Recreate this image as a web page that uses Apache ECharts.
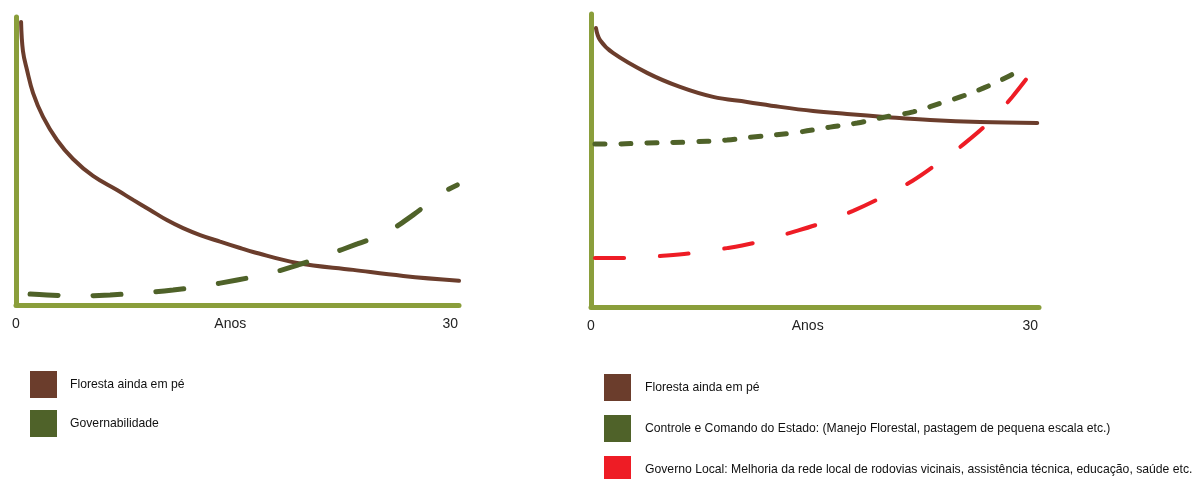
<!DOCTYPE html>
<html>
<head>
<meta charset="utf-8">
<script src="https://cdn.jsdelivr.net/npm/echarts@6/dist/echarts.min.js"></script>
<style>
html,body{margin:0;padding:0;background:#fff;overflow:hidden;}
#chart{width:1201px;height:500px;}
</style>
</head>
<body>
<div id="chart"></div>
<script>
// ---- Data (x = years, y = relative level 0-100) ----
const xTickValues = [0, 14.8, 30];
const xTickLabels = ['0', 'Anos', '30'];

const nameForest = 'Floresta ainda em pé';
const nameGov = 'Governabilidade';
const nameState = 'Controle e Comando do Estado: (Manejo Florestal, pastagem de pequena escala etc.)';
const nameLocal = 'Governo Local: Melhoria da rede local de rodovias vicinais, assistência técnica, educação, saúde etc.';

// Left panel
const leftForest = [[0.35,98.3],[0.48,88.2],[0.76,81.6],[1.18,73.6],[1.87,65.3],[2.83,57.3],[3.94,50.7],[5.32,44.8],[6.98,39.9],[8.09,36.5],[9.26,33.0],[10.42,29.5],[11.54,26.7],[12.72,24.3],[14.10,22.0],[15.48,19.8],[16.38,18.4],[19.42,14.6],[23.29,12.2],[26.75,10.1],[30.6,8.4]];
const leftGov = [[0.97,3.8],[2.14,3.5],[4.22,3.1],[6.50,3.5],[8.57,4.2],[10.85,5.2],[12.93,6.6],[15.28,8.7],[17.35,10.8],[19.49,13.9],[21.50,17.4],[23.57,21.2],[25.51,25.0],[27.44,31.3],[29.31,38.5],[30.48,41.7]];

// Right panel
const rightForest = [[0.34,95.2],[0.62,91.1],[1.50,86.7],[3.83,79.9],[6.08,75.1],[8.34,71.7],[10.66,70.0],[12.92,68.3],[15.17,66.9],[17.49,65.9],[20.23,64.8],[23.17,63.8],[26.58,63.1],[30.48,62.8]];
const rightState = [[0.27,55.6],[1.30,55.6],[3.83,56.0],[6.56,56.3],[9.29,57.0],[11.07,58.0],[13.80,59.4],[16.33,61.4],[18.18,62.8],[20.43,65.2],[22.00,66.6],[24.33,70.3],[25.22,71.7],[26.79,74.7],[28.43,78.5],[29.32,80.9]];
const rightLocal = [[0.27,16.7],[2.53,16.7],[4.72,17.4],[6.97,18.4],[9.29,20.1],[11.41,22.2],[13.60,25.3],[15.79,28.7],[17.90,32.8],[19.89,37.5],[21.94,43.0],[23.71,49.1],[25.56,56.0],[27.27,63.5],[28.77,71.7],[30.20,80.9]];

// ---- Styles ----
const C_AXIS = '#8a9e3b';
const C_BROWN = '#6b3d2c';
const C_GREEN = '#4f6229';
const C_RED = '#ee1c25';
const FONT = '"Liberation Sans", Arial, sans-serif';

function xAxis(gi) {
  return {
    type: 'value', gridIndex: gi, min: 0, max: 30.6,
    axisLine: {show: true, lineStyle: {color: C_AXIS, width: 5, cap: 'round'}},
    axisTick: {show: false},
    splitLine: {show: false},
    axisLabel: {
      show: true,
      customValues: xTickValues,
      formatter: function (v) {
        const i = xTickValues.findIndex(t => Math.abs(t - v) < 1e-6);
        return i >= 0 ? xTickLabels[i] : '';
      },
      margin: 12, color: '#222', fontSize: 14, fontFamily: FONT
    }
  };
}
function yAxis(gi) {
  return {
    type: 'value', gridIndex: gi, min: 0, max: 100,
    axisLine: {show: true, lineStyle: {color: C_AXIS, width: 5, cap: 'round'}},
    axisTick: {show: false}, axisLabel: {show: false}, splitLine: {show: false}
  };
}
function line(name, data, gi, color, width, dash) {
  return {
    name: name, type: 'line', xAxisIndex: gi, yAxisIndex: gi,
    data: data, smooth: 0.4, showSymbol: false, symbol: 'none',
    itemStyle: {color: color},
    lineStyle: {color: color, width: width, type: dash || 'solid', cap: 'round'},
    animation: false, silent: true
  };
}

const chart = echarts.init(document.getElementById('chart'), null, {renderer: 'canvas'});
chart.setOption({
  backgroundColor: '#fff',
  animation: false,
  grid: [
    {left: 16, top: 17, width: 443, height: 288},
    {left: 591, top: 14, width: 448, height: 293}
  ],
  xAxis: [xAxis(0), xAxis(1)],
  yAxis: [yAxis(0), yAxis(1)],
  legend: [
    {
      orient: 'vertical', left: 30, top: 371, icon: 'rect', padding: 0,
      itemWidth: 27, itemHeight: 27, itemGap: 12,
      selectedMode: false,
      itemStyle: {borderWidth: 0},
      textStyle: {fontSize: 12.2, color: '#111', fontFamily: FONT, padding: [0, 0, 0, 8]},
      data: [nameForest, nameGov]
    },
    {
      orient: 'vertical', left: 604, top: 374, icon: 'rect', padding: 0,
      itemWidth: 27, itemHeight: 27, itemGap: 14,
      selectedMode: false,
      itemStyle: {borderWidth: 0},
      textStyle: {fontSize: 12.2, color: '#111', fontFamily: FONT, padding: [0, 0, 0, 9]},
      data: [nameForest, nameState, nameLocal]
    }
  ],
  series: [
    line(nameForest, leftForest, 0, C_BROWN, 4),
    line(nameGov, leftGov, 0, C_GREEN, 5, [28, 35]),
    line(nameForest, rightForest, 1, C_BROWN, 4),
    line(nameState, rightState, 1, C_GREEN, 5, [10, 16]),
    line(nameLocal, rightLocal, 1, C_RED, 4, [29, 36])
  ]
});
</script>
</body>
</html>
